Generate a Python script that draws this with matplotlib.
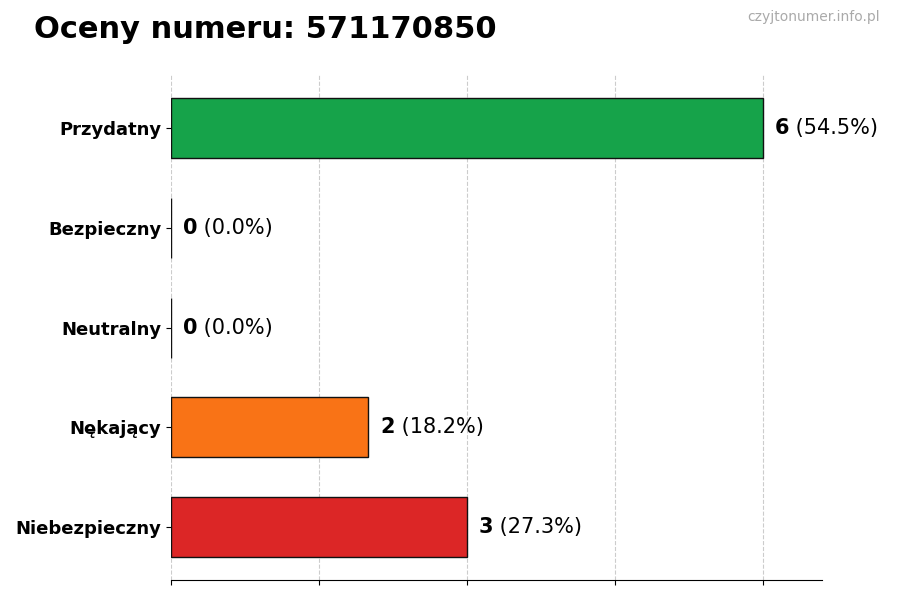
import matplotlib
matplotlib.use("Agg")
import matplotlib.pyplot as plt

categories = ["Przydatny", "Bezpieczny", "Neutralny", "Nękający", "Niebezpieczny"]
counts = [6, 0, 0, 2, 3]
percents = ["54.5%", "0.0%", "0.0%", "18.2%", "27.3%"]
colors = ["#16a34a", "#16a34a", "#9ca3af", "#f97316", "#dc2626"]

fig = plt.figure(figsize=(9, 6), dpi=100)
ax = fig.add_axes([0.19, 0.033, 0.723, 0.842])

ypos = list(range(len(categories)))
ax.barh(ypos, counts, height=0.6, color=colors, edgecolor="#111111", linewidth=1, zorder=3)
ax.set_yticks(ypos)
ax.set_yticklabels(categories, fontsize=13, fontweight="bold")
ax.set_ylim(4.53, -0.53)
ax.set_xlim(0, 6.6)
ax.set_xticks([0, 1.5, 3, 4.5, 6])
ax.set_xticklabels([])
ax.grid(axis="x", linestyle="--", color="#cccccc", linewidth=0.8, zorder=0)
for s in ["top", "right", "left"]:
    ax.spines[s].set_visible(False)

for y, c, p in zip(ypos, counts, percents):
    t = ax.text(c + 0.12, y, str(c), fontsize=15, fontweight="bold", va="center", ha="left")
    ax.annotate(f" ({p})", xy=(1, 0.5), xycoords=t, va="center", ha="left", fontsize=15)

fig.text(0.038, 0.95, "Oceny numeru: 571170850", fontsize=22, fontweight="bold", va="center")
fig.text(0.978, 0.972, "czyjtonumer.info.pl", fontsize=10, color="#aaaaaa", ha="right", va="center")

fig.savefig("out.png")
